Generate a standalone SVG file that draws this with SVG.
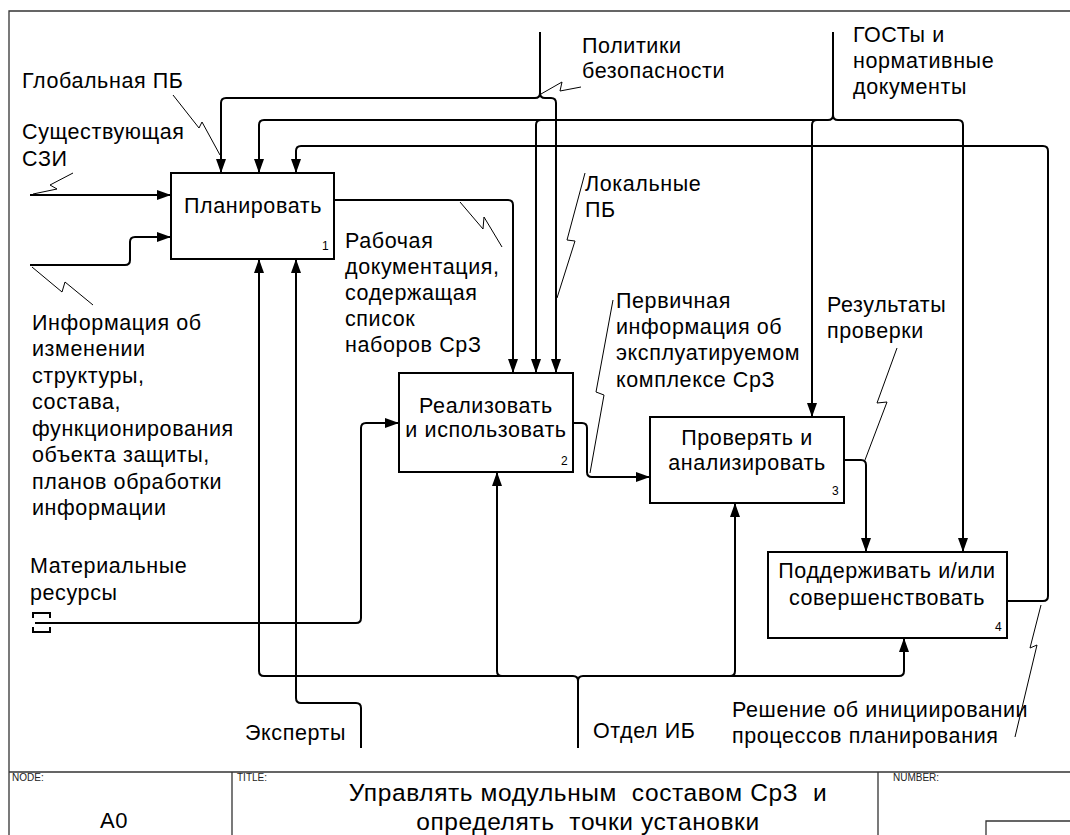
<svg xmlns="http://www.w3.org/2000/svg" width="1070" height="835" viewBox="0 0 1070 835">
<style>
  .t { font-family: "Liberation Sans", Arial, sans-serif; font-size: 21.5px; letter-spacing: 0.6px; fill: #000; }
  .c { text-anchor: middle; }
  .n { font-family: "Liberation Sans", Arial, sans-serif; font-size: 12px; fill: #000; }
  .s { font-family: "Liberation Sans", Arial, sans-serif; font-size: 10px; fill: #222; }
  .box { fill: #fff; stroke: #000; stroke-width: 2; }
  .ar { fill: none; stroke: #000; stroke-width: 2; }
  .sq { fill: none; stroke: #000; stroke-width: 1; }
  .fr { fill: none; stroke: #333; stroke-width: 1.3; }
</style>
<defs>
  <marker id="ah" viewBox="0 0 14 10" refX="14" refY="5" markerWidth="14" markerHeight="10" markerUnits="userSpaceOnUse" orient="auto">
    <path d="M0,0 L14,5 L0,10 Z" fill="#000"/>
  </marker>
</defs>
<rect x="0" y="0" width="1070" height="835" fill="#fff"/>

<!-- frame -->
<g id="frame">
  <path class="fr" d="M9,835 V11 H1070"/>
  <path class="fr" d="M9,772 H1070 M232,772 V835 M878,772 V835"/>
  <path class="fr" d="M986,835 V821 H1070"/>
  <text class="s" x="12" y="781">NODE:</text>
  <text class="s" x="237" y="781">TITLE:</text>
  <text class="s" x="893" y="781">NUMBER:</text>
  <text class="t" x="114" y="828" style="font-size:22px" text-anchor="middle">A0</text>
  <text class="t c" x="588" y="801" xml:space="preserve" style="font-size:24.5px">Управлять модульным  составом СрЗ  и</text>
  <text class="t c" x="588" y="830" xml:space="preserve" style="font-size:24.5px">определять  точки установки</text>
</g>

<!-- connectors -->
<g id="connectors">
  <!-- Политики безопасности -->
  <path class="ar" d="M540,32 V93 Q540,98 535,98 H226 Q221,98 221,103 V173" marker-end="url(#ah)"/>
  <path class="ar" d="M540,93 Q540,98 545,98 H551 Q556,98 556,103 V373" marker-end="url(#ah)"/>
  <!-- ГОСТы и нормативные документы -->
  <path class="ar" d="M833,32 V115 Q833,120 828,120 H264 Q259,120 259,125 V173" marker-end="url(#ah)"/>
  <path class="ar" d="M541,120 Q536,120 536,125 V373" marker-end="url(#ah)"/>
  <path class="ar" d="M817,120 Q812,120 812,125 V417" marker-end="url(#ah)"/>
  <path class="ar" d="M833,115 Q833,120 838,120 H958 Q963,120 963,125 V552" marker-end="url(#ah)"/>
  <!-- feedback -->
  <path class="ar" d="M1007,601 H1043 Q1048,601 1048,596 V151 Q1048,146 1043,146 H301 Q296,146 296,151 V173" marker-end="url(#ah)"/>
  <!-- node 1 output -->
  <path class="ar" d="M334,200 H508 Q513,200 513,205 V373" marker-end="url(#ah)"/>
  <!-- node 2 output -->
  <path class="ar" d="M573,423 H582 Q587,423 587,428 V472 Q587,477 592,477 H650" marker-end="url(#ah)"/>
  <!-- node 3 output -->
  <path class="ar" d="M844,460 H861 Q866,460 866,465 V552" marker-end="url(#ah)"/>
  <!-- inputs to node 1 -->
  <path class="ar" d="M30,195 H171" marker-end="url(#ah)"/>
  <path class="ar" d="M30,265 H125 Q130,265 130,260 V242 Q130,237 135,237 H171" marker-end="url(#ah)"/>
  <!-- material resources -->
  <path class="ar" d="M35,623 H356 Q361,623 361,618 V428 Q361,423 366,423 H399" marker-end="url(#ah)"/>
  <path class="ar" d="M33,618 V613 H50 V618 M33,627 V632 H50 V627"/>
  <!-- Эксперты -->
  <path class="ar" d="M361,748 V708 Q361,703 356,703 H301 Q296,703 296,698 V259" marker-end="url(#ah)"/>
  <!-- Отдел ИБ -->
  <path class="ar" d="M578,748 V681 Q578,676 573,676 H264 Q259,676 259,671 V259" marker-end="url(#ah)"/>
  <path class="ar" d="M502,676 Q497,676 497,671 V472" marker-end="url(#ah)"/>
  <path class="ar" d="M578,681 Q578,676 583,676 H899 Q904,676 904,671 V638" marker-end="url(#ah)"/>
  <path class="ar" d="M730,676 Q735,676 735,671 V503" marker-end="url(#ah)"/>
  <!-- label squiggles -->
  <path class="sq" d="M173,95 L199,128 L202,122 L220,155"/>
  <path class="sq" d="M33,194 L57,189 L50,185 L73,173"/>
  <path class="sq" d="M32,267 L62,292 L65,282 L93,305"/>
  <path class="sq" d="M541,94 L562,82 L560,91 L581,87"/>
  <path class="sq" d="M460,202 L483,229 L484,217 L502,247"/>
  <path class="sq" d="M585,173 L567,240 L575,241 L557,298"/>
  <path class="sq" d="M590,473 L604,395 L596,392 L613,300"/>
  <path class="sq" d="M865,460 L887,402 L877,403 L897,348"/>
  <path class="sq" d="M1041,605 L1030,648 L1037,645 L1015,737"/>
</g>

<!-- nodes -->
<g id="node1">
  <rect class="box" x="171" y="173" width="163" height="86"/>
  <text class="t c" x="253" y="213">Планировать</text>
  <text class="n" x="322" y="250">1</text>
</g>
<g id="node2">
  <rect class="box" x="399" y="373" width="174" height="99"/>
  <text class="t c" x="486" y="413">Реализовать</text>
  <text class="t c" x="486" y="437">и использовать</text>
  <text class="n" x="561" y="465">2</text>
</g>
<g id="node3">
  <rect class="box" x="650" y="417" width="194" height="86"/>
  <text class="t c" x="747" y="445">Проверять и</text>
  <text class="t c" x="747" y="470">анализировать</text>
  <text class="n" x="832" y="495">3</text>
</g>
<g id="node4">
  <rect class="box" x="768" y="552" width="239" height="86"/>
  <text class="t c" x="887" y="578">Поддерживать и/или</text>
  <text class="t c" x="887" y="605">совершенствовать</text>
  <text class="n" x="995" y="631">4</text>
</g>

<!-- labels -->
<g id="labels">
  <text class="t" x="22" y="88">Глобальная ПБ</text>
  <text class="t" x="22" y="139">Существующая</text>
  <text class="t" x="22" y="166">СЗИ</text>
  <text class="t" x="32" y="330">Информация об</text>
  <text class="t" x="32" y="356">изменении</text>
  <text class="t" x="32" y="383">структуры,</text>
  <text class="t" x="32" y="409">состава,</text>
  <text class="t" x="32" y="436">функционирования</text>
  <text class="t" x="32" y="462">объекта защиты,</text>
  <text class="t" x="32" y="489">планов обработки</text>
  <text class="t" x="32" y="515">информации</text>
  <text class="t" x="30" y="573">Материальные</text>
  <text class="t" x="30" y="600">ресурсы</text>
  <text class="t" x="245" y="740">Эксперты</text>
  <text class="t" x="593" y="738">Отдел ИБ</text>
  <text class="t" x="732" y="717">Решение об инициировании</text>
  <text class="t" x="732" y="743">процессов планирования</text>
  <text class="t" x="582" y="53">Политики</text>
  <text class="t" x="582" y="78">безопасности</text>
  <text class="t" x="853" y="42">ГОСТы и</text>
  <text class="t" x="853" y="68">нормативные</text>
  <text class="t" x="853" y="94">документы</text>
  <text class="t" x="585" y="191">Локальные</text>
  <text class="t" x="585" y="217">ПБ</text>
  <text class="t" x="345" y="248">Рабочая</text>
  <text class="t" x="345" y="274">документация,</text>
  <text class="t" x="345" y="300">содержащая</text>
  <text class="t" x="345" y="326">список</text>
  <text class="t" x="345" y="352">наборов СрЗ</text>
  <text class="t" x="616" y="308">Первичная</text>
  <text class="t" x="616" y="334">информация об</text>
  <text class="t" x="616" y="360">эксплуатируемом</text>
  <text class="t" x="616" y="387">комплексе СрЗ</text>
  <text class="t" x="827" y="312">Результаты</text>
  <text class="t" x="827" y="338">проверки</text>
</g>
</svg>
